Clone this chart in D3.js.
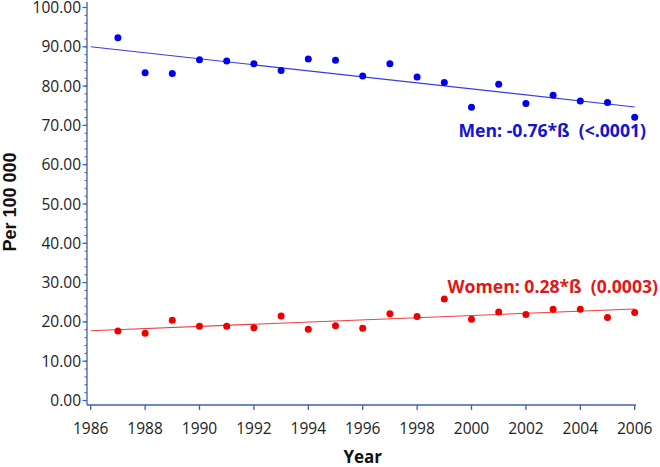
<!DOCTYPE html>
<html><head><meta charset="utf-8">
<script src="https://cdn.jsdelivr.net/npm/d3@7"></script>
<style>body{margin:0;background:#fff}svg{display:block}text{white-space:pre}</style>
</head><body>
<svg id="c" width="660" height="467"></svg>
<script>
const years = [1987,1988,1989,1990,1991,1992,1993,1994,1995,1996,1997,1998,1999,2000,2001,2002,2003,2004,2005,2006];
const men = [92.3,83.4,83.2,86.7,86.4,85.7,84.0,86.9,86.6,82.6,85.7,82.3,80.9,74.6,80.5,75.6,77.7,76.2,75.8,72.1];
const women = [17.7,17.1,20.4,18.9,18.9,18.5,21.5,18.1,19.0,18.4,22.1,21.4,25.8,20.7,22.5,21.9,23.2,23.2,21.1,22.4];
const menFit = [[1986,90.0],[2006,74.7]];
const womenFit = [[1986,17.75],[2006,23.3]];
const xTicks = [1986,1988,1990,1992,1994,1996,1998,2000,2002,2004,2006];
const yTicks = [0,10,20,30,40,50,60,70,80,90,100];
const yMinor = d3.range(0,101,2);
const menLabel = "Men: -0.76*ß  (<.0001)";
const womenLabel = "Women: 0.28*ß  (0.0003)";

const svg = d3.select("#c");
const x = d3.scaleLinear().domain([1986,2006]).range([90.7,634.7]);
const y = d3.scaleLinear().domain([0,100]).range([400.5,7.5]);
const axisCol = "#3f5fb0";
const font = "'Open Sans', sans-serif";

const ax0 = 87, ay0 = 405;
svg.append("line").attr("x1",ax0).attr("x2",ax0).attr("y1",2).attr("y2",ay0).attr("stroke",axisCol).attr("stroke-width",1.3);
svg.append("line").attr("x1",ax0).attr("x2",636).attr("y1",ay0).attr("y2",ay0).attr("stroke",axisCol).attr("stroke-width",1.3);
svg.append("g").selectAll("line").data(yMinor).join("line")
  .attr("x1",ax0-2.5).attr("x2",ax0).attr("y1",d=>y(d)).attr("y2",d=>y(d)).attr("stroke",axisCol);
svg.append("g").selectAll("line").data(yTicks).join("line")
  .attr("x1",ax0-4.5).attr("x2",ax0).attr("y1",d=>y(d)).attr("y2",d=>y(d)).attr("stroke",axisCol).attr("stroke-width",1.2);
svg.append("g").selectAll("text").data(yTicks).join("text")
  .attr("x",81).attr("y",d=>y(d)).attr("dy","0.36em").attr("text-anchor","end")
  .attr("font-family",font).attr("font-size",15.5).attr("fill","#222").text(d=>d.toFixed(2));
svg.append("g").selectAll("line").data(xTicks).join("line")
  .attr("x1",d=>x(d)).attr("x2",d=>x(d)).attr("y1",ay0).attr("y2",ay0+5).attr("stroke",axisCol).attr("stroke-width",1.3);
svg.append("g").selectAll("text").data(xTicks).join("text")
  .attr("x",d=>x(d)).attr("y",428).attr("dy","0.36em").attr("text-anchor","middle")
  .attr("font-family",font).attr("font-size",15.5).attr("fill","#222").text(d=>d);
svg.append("text").attr("x",362.7).attr("y",456.5).attr("dy","0.36em").attr("text-anchor","middle")
  .attr("font-family",font).attr("font-weight","bold").attr("font-size",17).attr("fill","#111").text("Year");
svg.append("text").attr("transform","translate(9.5,202) rotate(-90)").attr("dy","0.36em").attr("text-anchor","middle")
  .attr("font-family","'Liberation Sans', Arial, sans-serif").attr("font-weight","bold").attr("font-size",18).attr("fill","#111").text("Per 100 000");

const line = d3.line().x(d=>x(d[0])).y(d=>y(d[1]));
svg.append("path").attr("d",line(menFit)).attr("stroke","#3a3ae6").attr("fill","none").attr("stroke-width",1.1);
svg.append("path").attr("d",line(womenFit)).attr("stroke","#ec4040").attr("fill","none").attr("stroke-width",1.1);

svg.append("g").selectAll("circle").data(years).join("circle")
  .attr("cx",d=>x(d)).attr("cy",(d,i)=>y(men[i])).attr("r",3.5).attr("fill","#0000ee");
svg.append("g").selectAll("circle").data(years).join("circle")
  .attr("cx",d=>x(d)).attr("cy",(d,i)=>y(women[i])).attr("r",3.5).attr("fill","#ee0000");

svg.append("text").attr("x",646).attr("y",136.5).attr("text-anchor","end")
  .attr("font-family",font).attr("font-weight","bold").attr("font-size",17.6).attr("fill","#1414d0").text(menLabel);
svg.append("text").attr("x",658).attr("y",292.5).attr("text-anchor","end")
  .attr("font-family",font).attr("font-weight","bold").attr("font-size",17.6).attr("fill","#e01818").text(womenLabel);
</script>
</body></html>
